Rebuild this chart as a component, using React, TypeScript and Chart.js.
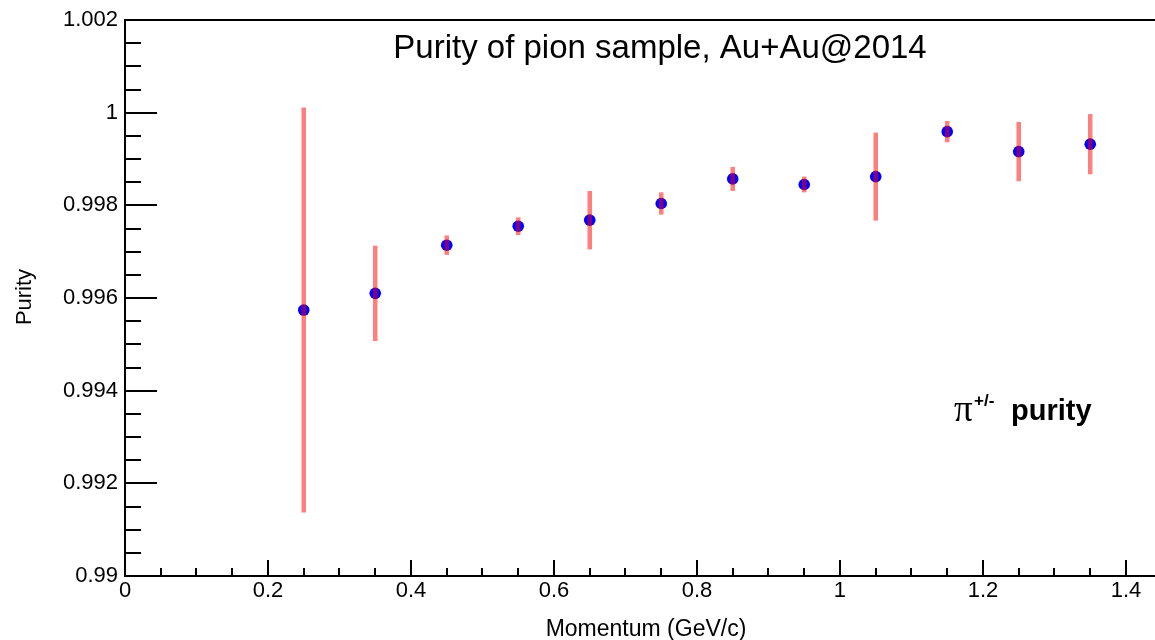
import React, { useEffect, useRef } from "react";
import { Chart, registerables } from "chart.js";

Chart.register(...registerables);

// ---- data ----
const momentum = [0.25, 0.35, 0.45, 0.55, 0.65, 0.75, 0.85, 0.95, 1.05, 1.15, 1.25, 1.35];
const purity = [0.99574, 0.9961, 0.99714, 0.99755, 0.99768, 0.99804, 0.99857, 0.99845, 0.99862, 0.99959, 0.99916, 0.99932];
const purityErr = [0.00437, 0.00103, 0.00021, 0.00019, 0.00063, 0.00024, 0.00026, 0.00017, 0.00095, 0.00023, 0.00064, 0.00065];

const xTickValues = [0, 0.2, 0.4, 0.6, 0.8, 1, 1.2, 1.4];
const xTickLabels = ["0", "0.2", "0.4", "0.6", "0.8", "1", "1.2", "1.4"];
const yTickValues = [0.99, 0.992, 0.994, 0.996, 0.998, 1, 1.002];
const yTickLabels = ["0.99", "0.992", "0.994", "0.996", "0.998", "1", "1.002"];

const X_MIN = 0;
const X_MAX = 1.4406;
const Y_MIN = 0.99;
const Y_MAX = 1.002;
const X_MINOR = 0.05;
const Y_MINOR = 0.0005;

const titleText = "Purity of pion sample, Au+Au@2014";
const xTitle = "Momentum (GeV/c)";
const yTitle = "Purity";

const SANS = "'Liberation Sans', Arial, Helvetica, sans-serif";

const errorBarPlugin = {
  id: "errorBars",
  afterDatasetsDraw(chart: any) {
    const ctx = chart.ctx;
    const xs = chart.scales.x;
    const ys = chart.scales.y;
    ctx.save();
    ctx.strokeStyle = "rgba(255,0,0,0.5)";
    ctx.lineWidth = 4.5;
    ctx.lineCap = "butt";
    for (let i = 0; i < momentum.length; i++) {
      const px = xs.getPixelForValue(momentum[i]);
      const top = ys.getPixelForValue(purity[i] + purityErr[i]);
      const bot = ys.getPixelForValue(purity[i] - purityErr[i]);
      ctx.beginPath();
      ctx.moveTo(px, top);
      ctx.lineTo(px, bot);
      ctx.stroke();
    }
    ctx.restore();
  },
};

const framePlugin = {
  id: "rootFrame",
  afterDraw(chart: any) {
    const ctx = chart.ctx;
    const { left, top, bottom } = chart.chartArea;
    const right = chart.width;
    const xs = chart.scales.x;
    const ys = chart.scales.y;
    ctx.save();
    ctx.strokeStyle = "#000";
    ctx.lineWidth = 2;
    ctx.beginPath();
    ctx.moveTo(left, top);
    ctx.lineTo(right, top);
    ctx.moveTo(left, top - 1);
    ctx.lineTo(left, bottom + 1);
    ctx.moveTo(left - 1, bottom);
    ctx.lineTo(right, bottom);
    // y ticks
    const ny = Math.round((Y_MAX - Y_MIN) / Y_MINOR);
    for (let i = 0; i <= ny; i++) {
      const v = Y_MIN + i * Y_MINOR;
      const py = Math.round(ys.getPixelForValue(v));
      const len = i % 4 === 0 ? 32 : 16;
      ctx.moveTo(left, py);
      ctx.lineTo(left + len, py);
    }
    // x ticks
    const nx = Math.floor((X_MAX - X_MIN) / X_MINOR + 1e-9);
    for (let i = 0; i <= nx; i++) {
      const v = X_MIN + i * X_MINOR;
      const px = Math.round(xs.getPixelForValue(v));
      const len = i % 4 === 0 ? 16 : 8;
      ctx.moveTo(px, bottom);
      ctx.lineTo(px, bottom - len);
    }
    ctx.stroke();

    // titles
    ctx.fillStyle = "#000";
    ctx.textAlign = "center";
    ctx.textBaseline = "alphabetic";
    ctx.font = `33px ${SANS}`;
    ctx.fillText(titleText, 660, 58);

    ctx.font = `23px ${SANS}`;
    ctx.fillText(xTitle, 646, 636);

    ctx.save();
    ctx.translate(31, 297);
    ctx.rotate(-Math.PI / 2);
    ctx.font = `22px ${SANS}`;
    ctx.fillText(yTitle, 0, 0);
    ctx.restore();

    // pi label
    ctx.textAlign = "left";
    ctx.font = `37px 'Liberation Serif', 'DejaVu Serif', serif`;
    ctx.fillText("\u03c0", 954, 421);
    ctx.font = `bold 17px ${SANS}`;
    ctx.fillText("+/-", 974, 406);
    ctx.font = `bold 29px ${SANS}`;
    ctx.fillText("purity", 1011, 420);
    ctx.restore();
  },
};

export default function App() {
  const canvasRef = useRef<HTMLCanvasElement | null>(null);

  useEffect(() => {
    document.body.style.margin = "0";
    const canvas = canvasRef.current;
    if (!canvas) return;
    const points = momentum.map((x, i) => ({ x, y: purity[i] }));
    const chart = new Chart(canvas, {
      type: "scatter",
      data: {
        datasets: [
          {
            label: "purity",
            data: points,
            backgroundColor: "#0000ff",
            borderWidth: 0,
            pointRadius: 5.8,
            pointHoverRadius: 5.8,
          },
        ],
      },
      options: {
        responsive: false,
        animation: false,
        events: [],
        layout: { autoPadding: false, padding: { top: 20, left: 0, right: 0, bottom: 0 } },
        plugins: {
          legend: { display: false },
          tooltip: { enabled: false },
          title: { display: false },
        },
        scales: {
          x: {
            type: "linear",
            min: X_MIN,
            max: X_MAX,
            grid: { display: false, drawTicks: false },
            border: { display: false },
            afterBuildTicks: (scale: any) => {
              scale.ticks = xTickValues.map((value) => ({ value }));
            },
            afterFit: (scale: any) => {
              scale.height = 64;
              scale.paddingLeft = 0;
              scale.paddingRight = 0;
            },
            ticks: {
              autoSkip: false,
              maxRotation: 0,
              padding: 2,
              color: "#000",
              font: { family: SANS, size: 22 },
              callback: (_v: any, i: number) => xTickLabels[i],
            },
          },
          y: {
            type: "linear",
            min: Y_MIN,
            max: Y_MAX,
            grid: { display: false, drawTicks: false },
            border: { display: false },
            afterBuildTicks: (scale: any) => {
              scale.ticks = yTickValues.map((value) => ({ value }));
            },
            afterFit: (scale: any) => {
              scale.width = 125;
              scale.paddingTop = 0;
              scale.paddingBottom = 0;
            },
            ticks: {
              autoSkip: false,
              padding: 7,
              color: "#000",
              font: { family: SANS, size: 22 },
              callback: (_v: any, i: number) => yTickLabels[i],
            },
          },
        },
      },
      plugins: [errorBarPlugin, framePlugin],
    } as any);
    return () => chart.destroy();
  }, []);

  return (
    <div style={{ width: 1155, height: 640, background: "#fff" }}>
      <canvas ref={canvasRef} width={1155} height={640} style={{ display: "block" }} />
    </div>
  );
}
